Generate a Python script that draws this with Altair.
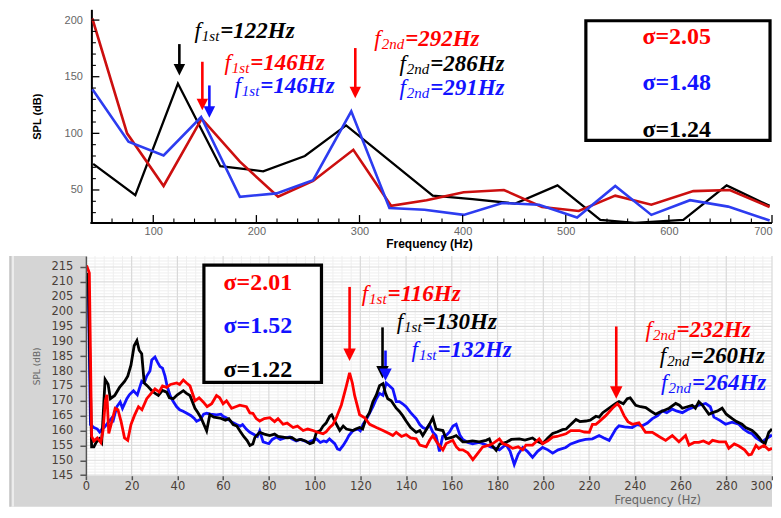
import altair as alt
import pandas as pd

# ---------------- colours ----------------
RED_T = "#cc0f0f"
BLUE_T = "#2d3cf0"
RED = "#ff0000"
BLUE = "#1212ff"
BLACK = "#000000"

# ---------------- top panel data ----------------
top_red_f = [40.9, 74.6, 110, 147, 184, 221, 255, 294, 330.6, 365, 401, 440, 477, 512.6, 548, 583, 623.7, 659, 697.7]
top_red_v = [201.4, 100, 53.5, 113, 75, 44, 58, 85.5, 36, 41, 48, 50, 35, 31.5, 45, 37, 49, 50, 35]
top_black_f = [41.7, 82.6, 123.9, 165, 206.6, 247, 287, 371, 409.5, 451, 492, 533.5, 567, 614, 656, 697.7]
top_black_v = [73, 45.4, 144, 71, 66.5, 80, 107, 45, 42, 38, 54, 23.6, 21, 23.6, 54, 36]
top_blue_f = [41, 76, 110, 146.4, 184, 219.5, 255, 292, 329, 363, 401, 438.5, 474, 511, 548, 583, 620.5, 657.5, 697.7]
top_blue_v = [139, 92.7, 80.5, 114.4, 44, 47, 58.7, 119.4, 34, 32.6, 28, 38.5, 37, 25.7, 53.5, 28, 41, 35.3, 23]

top_xticks = [100, 200, 300, 400, 500, 600, 700]
top_yticks = [50, 100, 150, 200]
top_xminor = [60, 80, 120, 140, 160, 180, 220, 240, 260, 280, 320, 340, 360, 380, 420, 440, 460, 480,
              520, 540, 560, 580, 620, 640, 660, 680]
top_yminor = [30, 40, 60, 70, 80, 90, 110, 120, 130, 140, 160, 170, 180, 190]

top_ann_f = [165.0, 194.1, 203.8, 344.3, 368.6, 368.6]
top_ann_v = [184.0, 156.2, 135.3, 177.1, 155.3, 133.6]
top_ann_sub = ["1st", "1st", "1st", "2nd", "2nd", "2nd"]
top_ann_main = ["=122Hz", "=146Hz", "=146Hz", "=292Hz", "=286Hz", "=291Hz"]
top_ann_col = [BLACK, RED, BLUE, RED, BLACK, BLUE]

top_arr_f = [125.3, 147.6, 154.4, 295.9]
top_arr_start = [178.8, 163.2, 142.3, 175.3]
top_arr_tip = [151.0, 120.5, 113.8, 131.0]
top_arr_col = [BLACK, RED, BLUE, RED]

top_sig_text = ["σ=2.05", "σ=1.48", "σ=1.24"]
top_sig_v = [178.8, 137.9, 97.1]
top_sig_col = [RED, BLUE, BLACK]
top_sig_f = [607.6, 607.6, 607.6]
top_box = {"f": [519.5], "f2": [698.1], "v": [199.4], "v2": [93.8]}

# ---------------- bottom panel data ----------------
bot_red_f = [0.3, 1.5, 2.5, 3.5, 5, 6.5, 7.5, 8.5, 9.2, 10, 11, 12.8, 14, 15.4, 16.9, 18.3, 19.7, 21.2, 23, 24.5,
             26.6, 28, 30.2, 32, 33.5, 35.3, 37, 39.7, 41, 42.6, 44, 45.5, 47.7, 49.5, 51.3, 53, 55, 57.1, 58.5, 60,
             61.5, 63.7, 65.5, 67.3, 70.2, 71.7, 73, 74.5, 76, 78, 80.4, 82.5, 84, 86.2, 88, 90.6, 92.5, 95, 97, 99.3,
             101, 103.7, 105, 106.6, 108, 109.5, 111.7, 113.9, 115.3, 116.5, 117.5, 119.7, 121.9, 124.1, 127, 129.9,
             132.8, 134.2, 135.7, 138, 140, 142, 144.4, 146, 148.8, 150.3, 151.7, 153.5, 156.1, 157.5, 160.4, 162,
             163.3, 164.8, 167, 169.2, 171, 173.5, 176.4, 177.9, 180.8, 182.3, 184.5, 186.6, 189, 191, 192.4, 195.3,
             198.2, 199.7, 202, 204.1, 206, 209.9, 212, 215.7, 218, 220.1, 221.5, 223, 224.4, 227.3, 230.2, 232.4,
             233.5, 235.3, 237, 238.9, 241.8, 243.3, 244.7, 247.7, 250.6, 253.5, 256.4, 259.3, 262.2, 263.7, 266,
             268, 270, 272.4, 274, 276.8, 279.7, 281.1, 283.5, 285.5, 288, 289.8, 291, 293, 294.2, 296.5, 298.6, 300]
bot_red_v = [215.5, 213, 158, 156.5, 157.5, 156, 160, 170, 172, 159, 162, 167.5, 167, 163, 157.5, 156.7, 162, 165, 168, 167,
             170.7, 172, 174, 173, 175, 174.5, 175.5, 176, 175.5, 177, 176, 175, 170, 171, 169.6, 168, 169, 171.8, 171, 169,
             170, 167.5, 168, 168.5, 168, 165.9, 165.8, 164, 163.2, 164, 164.3, 163, 164, 162.1, 162.5, 161, 161.5, 160, 160.5, 160,
             159.5, 158.9, 159.5, 161, 162, 164.3, 168.6, 175, 179.4, 176, 171.8, 165.3, 164.3, 162.1, 161, 160,
             158.9, 158.3, 159.4, 158, 158.6, 157.5, 157.2, 155.1, 154.5, 156.7, 158.3, 156, 153.5, 155.6, 156.7, 154.5,
             153.5, 153.5, 152.5, 150.2, 152, 154.5, 155.1, 155.6, 157.2, 155.6, 155, 154, 154.5, 153.5, 155.1, 155.1,
             157.2, 155.6, 156.5, 157.8, 158, 158.9, 160, 160, 159.5, 159.4, 162.1, 162.1, 163, 165, 167.5, 169,
             168, 165, 163, 162.1, 162.6, 161, 159.4, 159.4, 158, 156.7, 158.3, 156.2, 158.3, 155.1, 156,
             156, 156.5, 155.6, 156.7, 156.2, 156.2, 154, 155.5, 154.8, 153.5, 151.8, 152, 155, 154, 155, 153.5, 154]

bot_black_f = [0.3, 1, 2.5, 3.5, 4.5, 5.9, 6.9, 8.4, 9.7, 10.7, 12.6, 14.7, 16.9, 18.3, 19.7, 21.1, 22.3, 23.3, 24.4, 25.5,
               26.9, 28.8, 30.3, 31.7, 33.5, 35.3, 36.5, 38.2, 40, 42.6, 44, 45.5, 47.7, 49, 50.5, 52.8, 54.2, 56, 58.6,
               61, 62.5, 64.4, 66, 67.3, 69, 70.5, 71.7, 73, 73.9, 76, 78, 80.4, 82.5, 84, 86.2, 88, 90, 92, 94, 96, 97.9,
               99.5, 100.8, 102.5, 103.7, 105, 106.6, 107.5, 108.8, 111, 112.5, 113.9, 116.8, 118, 119.7, 121, 122.6,
               124, 125.5, 127, 128.4, 129.9, 131, 132, 133.5, 135.7, 137, 138.5, 140, 142, 144.4, 146, 147.3, 149,
               150.2, 151.7, 153.1, 156.1, 157.5, 160.4, 161.9, 164.8, 166.2, 169, 172, 175, 176.4, 177.5, 179.4, 181,
               183.7, 186, 189.5, 192, 195.3, 197, 199.7, 202, 204.1, 206, 208.4, 210, 212, 214.3, 216, 218.6, 220.5,
               223, 224.4, 226, 228.8, 231.7, 233.1, 235, 236.7, 238, 240.4, 242.5, 244.8, 247, 249.1, 251, 253.5, 255,
               257.9, 259.5, 260.8, 263, 265.1, 266.5, 268, 269.5, 271, 272.4, 274, 276, 278.2, 280, 282.6, 284.5,
               286.9, 288.5, 291.3, 293, 294.5, 295.7, 297, 298.6, 300]
bot_black_v = [210, 213, 154.5, 154.5, 156, 157.2, 156, 177.2, 175.6, 170.7, 171.8, 174.5, 176.5, 178.3, 182, 188.5, 190.2, 187, 185.8, 176,
               175, 173.4, 172.5, 171.8, 173.5, 172.9, 171, 170.7, 172, 173.4, 172.5, 171.8, 167.5, 166, 164, 159.9, 165.3, 164.5, 164.2,
               163.5, 164, 162, 161.5, 159.9, 158, 156.6, 155, 155.5, 157.7, 159.4, 158.8, 158.3, 158.8, 158, 157.8, 157.5, 157.7, 156.7, 157, 156.5, 155.6,
               156, 159.4, 160, 161.5, 162.5, 164.8, 165.3, 163.2, 160, 161.5, 160.5, 160, 160.5, 161, 160.5, 164.3,
               166, 169.7, 172, 175.1, 175.8, 172.5, 170.7, 170, 167.5, 166.5, 165, 163.2, 161, 159.4, 160, 158.3, 160.5,
               162.1, 164.3, 160.5, 160, 157.2, 157.8, 158.3, 156.2, 156.2, 156.5, 156.2, 156.7, 157.2, 155, 153.3, 155.5,
               156, 157, 157.2, 156.8, 157.5, 156.5, 155.6, 157.5, 159, 159.5, 160.3, 160.5, 162, 163.7, 163, 163.2, 163.5,
               164.8, 164.5, 166, 167.5, 169.1, 169.7, 169, 170.7, 171, 168.5, 168, 167.7, 166.5, 165.5, 166.2, 167, 167.5,
               169.1, 168.5, 167.5, 168, 168.5, 167.5, 169.7, 168.6, 167, 165.5, 166, 166.5, 167.5, 165.5, 164, 163,
               162.1, 161, 160, 158.8, 157.5, 156.2, 155.6, 159.4, 160.5]

bot_blue_f = [0.3, 1, 2, 3.5, 5, 6, 7, 8, 9.5, 11.3, 12, 13.5, 15, 16, 17.9, 19, 20.8, 22.5, 24.4, 25.5, 26.6, 28, 28.8,
              30.2, 31.3, 32.4, 33.5, 34.6, 35.5, 36.8, 38, 39.7, 41, 42.5, 44.1, 46, 47.5, 48.4, 50, 51.5, 52.8, 54.5,
              57.1, 59, 60, 61.5, 63.5, 65.9, 67.5, 68.5, 70.2, 71.7, 73.1, 75, 76, 77.5, 79, 80, 81.5, 83.3, 85, 87,
              89.2, 90, 92, 93.5, 95, 97, 98.5, 100.8, 102.5, 104, 105.2, 106.5, 108.8, 110, 111, 112.5, 113.9, 115,
              116.8, 119, 120, 121.2, 122.5, 124.1, 125.5, 127, 128.4, 129.9, 131.3, 132.8, 134.2, 135.7, 137.1, 138.5,
              140, 142, 144.4, 146, 147.3, 148.8, 150.2, 151.7, 153.1, 154.6, 156, 157.5, 159, 160.5, 161.9, 163.5,
              164.8, 167, 169.1, 172, 174.9, 177, 179.3, 180.8, 183.7, 185.5, 187.3, 189, 191, 193, 195.3, 197.5,
              199.7, 202, 204.1, 206.5, 209.8, 212, 215.7, 218.5, 221.5, 224.4, 226.5, 228.8, 231.7, 233.1, 235.5,
              238.9, 241, 243.3, 245.5, 247.7, 250, 252, 254, 256.4, 258.5, 260.8, 263, 265.1, 268, 271, 273, 274.6,
              277, 279.7, 282.5, 285.5, 287.5, 289.8, 291.3, 293, 295.7, 298, 300]
bot_blue_v = [212, 210, 162, 161, 160.5, 159.5, 160.5, 161, 162.5, 164.2, 163.5, 168, 169.6, 167.5, 170.7, 172, 173.4, 172, 176.6, 176, 178.3, 180, 183.7,
              184.7, 183, 181.5, 181, 178.3, 175, 171.8, 170, 168, 167, 166.5, 165.8, 165, 164, 163.1, 163.7, 165.5, 165.8, 165.5,
              165.3, 165.5, 164.8, 164.2, 163, 162, 161.5, 162, 160.4, 159.4, 158.8, 158, 159.9, 156.2, 155.8, 155.6, 157, 157.8, 157, 157.5,
              157.8, 157.2, 156.5, 157, 156.7, 156, 156.5, 157.2, 156, 156.5, 156.2, 157.2, 155.6, 153.8, 153.5, 155, 156.7, 158.3,
              160, 160.5, 159.9, 162.1, 163.5, 165.9, 168, 170.7, 172.5, 171.8, 176, 175, 174, 169.7, 169.7, 169,
              168, 166, 164, 162, 161, 160.5, 162, 159.4, 158.3, 153, 158, 158.3, 159.5, 161.5, 162.1, 158.5,
              157, 156, 155.5, 156, 155.2, 154.5, 154, 153.5, 155.3, 153, 148.6, 152, 154.3, 153, 151, 153,
              154.3, 153.5, 152.4, 153.5, 154.3, 155.5, 156.5, 157, 157.2, 158.3, 157.5, 156.7, 160.5, 161.6, 161.2,
              161, 162, 161.6, 162.5, 164, 165, 166.6, 166, 167.2, 166.5, 166, 167, 167.7, 168.5, 169.1, 168, 164.5,
              163.5, 162.1, 162.8, 162.1, 160.5, 159.3, 158.9, 157.5, 156.2, 157.5, 158.5]

bot_xticks = list(range(0, 301, 20))
bot_yticks = list(range(145, 216, 5))
bot_xminor = [x for x in range(0, 301, 4) if x % 20 != 0]
bot_yminor = [y for y in range(145, 219) if y % 5 != 0]

bot_ann_f = [131.9, 147.2, 153.7, 258.2, 264.4, 265.0]
bot_ann_v = [203.5, 194.1, 184.7, 191.5, 182.7, 173.7]
bot_ann_sub = ["1st", "1st", "1st", "2nd", "2nd", "2nd"]
bot_ann_main = ["=116Hz", "=130Hz", "=132Hz", "=232Hz", "=260Hz", "=264Hz"]
bot_ann_col = [RED, BLACK, BLUE, RED, BLACK, BLUE]

bot_arr_f = [115.3, 129.7, 131.0, 231.9]
bot_arr_start = [208.3, 194.7, 186.9, 195.0]
bot_arr_tip = [183.4, 177.5, 176.7, 170.7]
bot_arr_col = [RED, BLACK, BLUE, RED]

bot_sig_text = ["σ=2.01", "σ=1.52", "σ=1.22"]
bot_sig_v = [207.4, 192.8, 177.9]
bot_sig_col = [RED, BLUE, BLACK]
bot_sig_f = [75.2, 75.2, 75.2]
bot_box = {"f": [51.6], "f2": [103.0], "v": [215.6], "v2": [176.2]}

# ---------------- geometry ----------------
W1, H1 = 687, 214          # top plot (origin shared with bottom plot)
W2, H2 = 687, 220          # bottom plot
Y1_OFF = 5.5               # top y axis sits 5.5 px inside the shared origin
ARROW = "M-1,-2L1,-2L0,0Z"
SERIF = "Liberation Serif"
one = pd.DataFrame({"d": [0]})
TOP_DOM = [20.8, 209.5]
BOT_DOM = [144.8, 218.7]


def df(**cols):
    return pd.DataFrame(cols)


def panel(X, Y, W, H, lines, ann, arr, sig, box, dbpx, head, sub_w, ticks_layers, back_layers):
    layers = list(back_layers)
    for f, v, c, sw in lines:
        layers.append(alt.Chart(df(f=f, v=v)).mark_line(color=c, strokeWidth=sw, clip=True).encode(x=X, y=Y))
    layers += ticks_layers
    a = df(f=arr[0], v=arr[1], tip=arr[2], col=arr[3])
    a["end"] = a["tip"] + head * 0.45 * dbpx
    layers.append(alt.Chart(a).mark_rule(strokeWidth=2.6).encode(
        x=X, y=Y, y2="end:Q", color=alt.Color("col:N", scale=None)))
    ah = df(f=arr[0], v=arr[2], col=arr[3])
    layers.append(alt.Chart(ah).mark_point(shape=ARROW, filled=True, size=head * head, opacity=1, strokeWidth=0).encode(
        x=X, y=Y, fill=alt.Color("col:N", scale=None)))
    t = df(f=ann[0], v=ann[1], sub=ann[2], main=ann[3], col=ann[4], fl=["f"] * len(ann[0]))
    layers.append(alt.Chart(t).mark_text(font=SERIF, fontSize=23, fontStyle="italic", fontWeight="bold",
                                         align="left", baseline="alphabetic").encode(
        x=X, y=Y, text="main:N", color=alt.Color("col:N", scale=None)))
    layers.append(alt.Chart(t).mark_text(font=SERIF, fontSize=15, fontStyle="italic", align="right",
                                         baseline="alphabetic", dx=-1, dy=3).encode(
        x=X, y=Y, text="sub:N", color=alt.Color("col:N", scale=None)))
    for s, w in sub_w.items():
        layers.append(alt.Chart(t).transform_filter(alt.datum.sub == s).mark_text(
            font=SERIF, fontSize=23, fontStyle="italic", align="right", baseline="alphabetic", dx=-(w + 2)).encode(
            x=X, y=Y, text="fl:N", color=alt.Color("col:N", scale=None)))
    layers.append(alt.Chart(pd.DataFrame(box)).mark_rect(fill="white", stroke="black", strokeWidth=3.2).encode(
        x=X, x2="f2:Q", y=Y, y2="v2:Q"))
    s = df(f=sig[3], v=sig[1], txt=sig[0], col=sig[2])
    layers.append(alt.Chart(s).mark_text(font=SERIF, fontSize=24, fontWeight="bold", align="center",
                                         baseline="alphabetic").encode(
        x=X, y=Y, text="txt:N", color=alt.Color("col:N", scale=None)))
    return alt.layer(*layers).properties(width=W, height=H)


# ---------------- top panel ----------------
top_px = (W1 - Y1_OFF) / (700 - 40)
top_x0 = 40 - Y1_OFF / top_px
X1 = alt.X("f:Q", scale=alt.Scale(domain=[top_x0, 700], nice=False, zero=False),
           axis=alt.Axis(values=top_xticks, title="Frequency (Hz)", grid=False, ticks=False, domain=False,
                         labelColor="#666666", labelFont="Liberation Sans", labelFontSize=11,
                         labelPadding=2, labelFlush=False,
                         labelAlign={"condition": {"test": "datum.value >= 700", "value": "right"}, "value": "center"},
                         titleFont="Liberation Sans", titleFontSize=12,
                         titleFontWeight="bold", titleColor="black", titlePadding=2))
Y1 = alt.Y("v:Q", scale=alt.Scale(domain=TOP_DOM, nice=False, zero=False),
           axis=alt.Axis(values=top_yticks, title="SPL (dB)", grid=False, ticks=False, domainColor="black",
                         domainWidth=2, offset=-Y1_OFF, labelColor="#666666", labelFont="Liberation Sans",
                         labelFontSize=11, labelPadding=9, titleFont="Liberation Sans", titleFontSize=11,
                         titleFontWeight="bold", titleColor="black", titlePadding=22))

top_back = [alt.Chart(one).mark_rect(color="white").encode(
    x=alt.value(-77.5), x2=alt.value(-76.5), y=alt.value(-0.5), y2=alt.value(244.5))]
top_ticks = [
    alt.Chart(one).mark_rule(color="black", strokeWidth=2).encode(
        x=alt.value(Y1_OFF - 1), x2=alt.value(W1), y=alt.value(H1)),
    alt.Chart(df(v=top_yticks)).mark_rule(color="black", strokeWidth=1.3).encode(
        y=Y1, x=alt.value(Y1_OFF), x2=alt.value(Y1_OFF + 8)),
    alt.Chart(df(v=top_yminor)).mark_rule(color="black", strokeWidth=1.1).encode(
        y=Y1, x=alt.value(Y1_OFF), x2=alt.value(Y1_OFF + 4.5)),
    alt.Chart(df(f=top_xticks)).mark_rule(color="black", strokeWidth=1.3).encode(
        x=X1, y=alt.value(H1), y2=alt.value(H1 - 8)),
    alt.Chart(df(f=top_xminor)).mark_rule(color="black", strokeWidth=1.1).encode(
        x=X1, y=alt.value(H1), y2=alt.value(H1 - 4.5)),
]
top = panel(X1, Y1, W1, H1,
            [(top_black_f, top_black_v, BLACK, 2.3), (top_red_f, top_red_v, RED_T, 2.6), (top_blue_f, top_blue_v, BLUE_T, 2.6)],
            (top_ann_f, top_ann_v, top_ann_sub, top_ann_main, top_ann_col),
            (top_arr_f, top_arr_start, top_arr_tip, top_arr_col),
            (top_sig_text, top_sig_v, top_sig_col, top_sig_f), top_box,
            (TOP_DOM[1] - TOP_DOM[0]) / H1, 11.5, {"1st": 17.5, "2nd": 22.5}, top_ticks, top_back)

# ---------------- bottom panel ----------------
LBL = "#4a4038"
X2 = alt.X("f:Q", scale=alt.Scale(domain=[0, 300], nice=False, zero=False),
           axis=alt.Axis(values=bot_xticks, title="Frequency (Hz)", grid=False, domain=False, tickSize=4,
                         tickColor="#555555", tickWidth=1.5, labelColor=LBL, labelFont="DejaVu Sans",
                         labelFontSize=11.5, labelPadding=1, labelFlush=False,
                         labelAlign={"condition": {"test": "datum.value >= 300", "value": "right"}, "value": "center"},
                         titleFont="DejaVu Sans", titleFontSize=11.5, titleFontWeight="normal", titleColor="#666666",
                         titleX=572, titleY=19, titleBaseline="top", zindex=1))
Y2 = alt.Y("v:Q", scale=alt.Scale(domain=BOT_DOM, nice=False, zero=False),
           axis=alt.Axis(values=bot_yticks, title="SPL (dB)", grid=False, domainColor="#555555", domainWidth=1.5,
                         tickSize=6, tickColor="#555555", tickWidth=1.5, labelColor=LBL, labelFont="DejaVu Sans",
                         labelFontSize=11.5, labelPadding=7, titleFont="DejaVu Sans", titleFontSize=9,
                         titleFontWeight="normal", titleColor="#666666", titlePadding=10, zindex=1))

bot_back = [
    alt.Chart(one).mark_rect(color="#d5d5d5").encode(
        x=alt.value(-76.5), x2=alt.value(W2), y=alt.value(0), y2=alt.value(H2 + 31)),
    alt.Chart(one).mark_rule(color="#b9b9b9", strokeWidth=1).encode(
        x=alt.value(-76), y=alt.value(0), y2=alt.value(H2 + 31)),
    alt.Chart(one).mark_rule(color="#ececec", strokeWidth=2).encode(
        x=alt.value(-73), y=alt.value(0), y2=alt.value(H2 + 31)),
    alt.Chart(one).mark_rect(color="white").encode(x=alt.value(0), x2=alt.value(W2), y=alt.value(0), y2=alt.value(H2)),
    alt.Chart(df(f=bot_xminor)).mark_rule(color="#efefef", strokeWidth=1).encode(x=X2, y=alt.value(0), y2=alt.value(H2)),
    alt.Chart(df(v=bot_yminor)).mark_rule(color="#efefef", strokeWidth=1).encode(y=Y2, x=alt.value(0), x2=alt.value(W2)),
    alt.Chart(df(f=bot_xticks)).mark_rule(color="#d9d9d9", strokeWidth=1.2).encode(x=X2, y=alt.value(0), y2=alt.value(H2)),
    alt.Chart(df(v=bot_yticks)).mark_rule(color="#dddddd", strokeWidth=1.2).encode(y=Y2, x=alt.value(0), x2=alt.value(W2)),
]
bottom = panel(X2, Y2, W2, H2,
               [(bot_blue_f, bot_blue_v, BLUE, 2.8), (bot_black_f, bot_black_v, BLACK, 2.8), (bot_red_f, bot_red_v, RED, 2.8)],
               (bot_ann_f, bot_ann_v, bot_ann_sub, bot_ann_main, bot_ann_col),
               (bot_arr_f, bot_arr_start, bot_arr_tip, bot_arr_col),
               (bot_sig_text, bot_sig_v, bot_sig_col, bot_sig_f), bot_box,
               (BOT_DOM[1] - BOT_DOM[0]) / H2, 12.5, {"1st": 17.5, "2nd": 22.5}, [], bot_back)

chart = alt.vconcat(top, bottom, spacing=1).properties(
    padding=0, background="white").configure_view(stroke=None)

chart.save("out.html", embed_options={"renderer": "svg", "actions": False})
